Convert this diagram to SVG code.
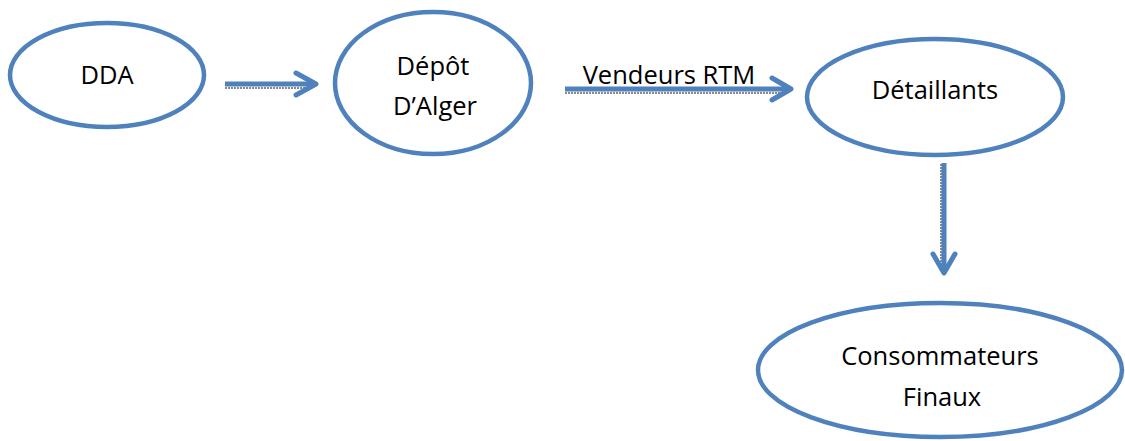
<svg xmlns="http://www.w3.org/2000/svg" width="1125" height="441" viewBox="0 0 1125 441">
<style>
.node{fill:#fff;stroke:#4F81BD;stroke-width:4.5}
.lbl{font-family:"Open Sans","Liberation Sans",sans-serif;font-size:25.5px;fill:#000;text-anchor:middle}
.shaft{stroke:#4F81BD;stroke-width:5;fill:none}
.shadow{stroke:#8a8a8a;stroke-width:2;stroke-dasharray:2 1;fill:none}
.head{fill:none;stroke:#4F81BD;stroke-width:5;stroke-linecap:round;stroke-linejoin:round}
</style>
<rect width="1125" height="441" fill="#fff"/>
<g id="connectors">
  <g id="e1">
    <line class="shadow" x1="225" y1="88" x2="312" y2="88"/>
    <line class="shaft" x1="225" y1="84" x2="314" y2="84"/>
    <polyline class="head" points="296,73 316,84 296,95"/>
  </g>
  <g id="e2">
    <line class="shadow" x1="565" y1="93" x2="786" y2="93"/>
    <line class="shaft" x1="565" y1="89" x2="788" y2="89"/>
    <polyline class="head" points="772,78 791,89 772,100"/>
    <text class="lbl" x="669" y="84">Vendeurs RTM</text>
  </g>
  <g id="e3">
    <line class="shadow" x1="941" y1="164" x2="941" y2="268"/>
    <line class="shaft" x1="944" y1="163" x2="944" y2="270"/>
    <polyline class="head" points="933,254 944,273 955,254"/>
  </g>
</g>
<g id="n1">
  <ellipse class="node" cx="107" cy="75" rx="97" ry="52"/>
  <text class="lbl" x="107" y="84">DDA</text>
</g>
<g id="n2">
  <ellipse class="node" cx="433" cy="83" rx="98" ry="71"/>
  <text class="lbl" x="433" y="75">Dépôt</text>
  <text class="lbl" x="435" y="115">D’Alger</text>
</g>
<g id="n3">
  <ellipse class="node" cx="935" cy="97" rx="128" ry="58"/>
  <text class="lbl" x="935" y="99">Détaillants</text>
</g>
<g id="n4">
  <ellipse class="node" cx="940" cy="370" rx="182" ry="67"/>
  <text class="lbl" x="940" y="365">Consommateurs</text>
  <text class="lbl" x="942" y="406">Finaux</text>
</g>
</svg>
